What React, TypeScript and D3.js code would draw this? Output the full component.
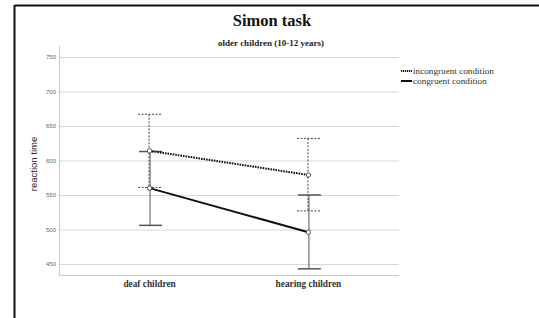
import React, { useEffect, useRef } from "react";
import * as d3 from "d3";

// groups on the x axis
const groups = ["deaf children", "hearing children"];

// mean reaction times and error-bar ends per condition
const incongruentMean = [614, 579];
const incongruentLow = [561, 527];
const incongruentHigh = [667, 632];

const congruentMean = [560, 496];
const congruentLow = [506, 443];
const congruentHigh = [613, 550];

const yTicks = [450, 500, 550, 600, 650, 700, 750];

const serif = "'Liberation Serif', 'Times New Roman', serif";
const sans = "'Liberation Sans', Arial, sans-serif";

const App: React.FC = () => {
  const svgRef = useRef<SVGSVGElement | null>(null);

  useEffect(() => {
    const width = 539;
    const height = 318;
    const plot = { left: 59, right: 399, top: 46, bottom: 275 };

    const svg = d3.select(svgRef.current);
    svg.selectAll("*").remove();
    svg.attr("width", width).attr("height", height);

    // frame (only top and left edges visible)
    svg
      .append("line")
      .attr("x1", 14.5)
      .attr("x2", width)
      .attr("y1", 5.5)
      .attr("y2", 5.5)
      .attr("stroke", "#111")
      .attr("stroke-width", 2);
    svg
      .append("line")
      .attr("x1", 14.5)
      .attr("x2", 14.5)
      .attr("y1", 5)
      .attr("y2", height)
      .attr("stroke", "#111")
      .attr("stroke-width", 2);

    const yScale = d3.scaleLinear().domain([450, 750]).range([264, 57]);
    const xScale = d3
      .scalePoint<string>()
      .domain(groups)
      .range([plot.left, plot.right])
      .padding(0.57);

    // grid lines
    svg
      .append("g")
      .selectAll("line")
      .data(yTicks)
      .enter()
      .append("line")
      .attr("x1", plot.left)
      .attr("x2", plot.right)
      .attr("y1", (d) => yScale(d) + 0.5)
      .attr("y2", (d) => yScale(d) + 0.5)
      .attr("stroke", "#d9d9d9")
      .attr("stroke-width", 1);

    // axes lines
    svg
      .append("line")
      .attr("x1", plot.left + 0.5)
      .attr("x2", plot.left + 0.5)
      .attr("y1", plot.top)
      .attr("y2", plot.bottom)
      .attr("stroke", "#c8c8c8");
    svg
      .append("line")
      .attr("x1", plot.left)
      .attr("x2", plot.right)
      .attr("y1", plot.bottom + 0.5)
      .attr("y2", plot.bottom + 0.5)
      .attr("stroke", "#c8c8c8");

    // y tick labels
    svg
      .append("g")
      .selectAll("text")
      .data(yTicks)
      .enter()
      .append("text")
      .attr("x", 56)
      .attr("y", (d) => yScale(d))
      .attr("dy", "0.35em")
      .attr("text-anchor", "end")
      .attr("font-family", sans)
      .attr("font-size", 6)
      .attr("fill", "#666")
      .text((d) => d);

    // y title
    svg
      .append("text")
      .attr("transform", `translate(36.5, 164) rotate(-90)`)
      .attr("text-anchor", "middle")
      .attr("font-family", sans)
      .attr("font-size", 9.5)
      .attr("fill", "#222")
      .text("reaction time");

    // x labels
    svg
      .append("g")
      .selectAll("text")
      .data(groups)
      .enter()
      .append("text")
      .attr("x", (d) => xScale(d)!)
      .attr("y", 287)
      .attr("text-anchor", "middle")
      .attr("font-family", serif)
      .attr("font-weight", "bold")
      .attr("font-size", 9.3)
      .attr("fill", "#333")
      .text((d) => d);

    // titles
    svg
      .append("text")
      .attr("x", 272)
      .attr("y", 26)
      .attr("text-anchor", "middle")
      .attr("font-family", serif)
      .attr("font-weight", "bold")
      .attr("font-size", 16.5)
      .attr("fill", "#111")
      .text("Simon task");
    svg
      .append("text")
      .attr("x", 271)
      .attr("y", 45.5)
      .attr("text-anchor", "middle")
      .attr("font-family", serif)
      .attr("font-weight", "bold")
      .attr("font-size", 9)
      .attr("fill", "#222")
      .text("older children (10-12 years)");

    const series = [
      {
        name: "incongruent condition",
        mean: incongruentMean,
        low: incongruentLow,
        high: incongruentHigh,
        lineDash: "1.6,1",
        barDash: "2,1.5",
        barColor: "#444",
        offset: -1,
      },
      {
        name: "congruent condition",
        mean: congruentMean,
        low: congruentLow,
        high: congruentHigh,
        lineDash: null,
        barDash: null,
        barColor: "#555",
        offset: 0,
      },
    ];

    // error bars
    series.forEach((s) => {
      const g = svg.append("g");
      groups.forEach((grp, i) => {
        const x = xScale(grp)! + s.offset + 0.5;
        g.append("line")
          .attr("x1", x)
          .attr("x2", x)
          .attr("y1", yScale(s.high[i]))
          .attr("y2", yScale(s.low[i]))
          .attr("stroke", s.barColor)
          .attr("stroke-width", 1)
          .attr("stroke-dasharray", s.barDash);
        [s.high[i], s.low[i]].forEach((v) => {
          g.append("line")
            .attr("x1", x - 11)
            .attr("x2", x + 12)
            .attr("y1", yScale(v))
            .attr("y2", yScale(v))
            .attr("stroke", s.barColor)
            .attr("stroke-width", s.barDash ? 1 : 1.5)
            .attr("stroke-dasharray", s.barDash);
        });
      });
    });

    // mean lines
    const line = d3
      .line<number>()
      .x((_, i) => xScale(groups[i])!)
      .y((d) => yScale(d));

    series.forEach((s) => {
      svg
        .append("path")
        .attr("d", line(s.mean))
        .attr("fill", "none")
        .attr("stroke", "#111")
        .attr("stroke-width", 2)
        .attr("stroke-dasharray", s.lineDash);
      svg
        .append("g")
        .selectAll("circle")
        .data(s.mean)
        .enter()
        .append("circle")
        .attr("cx", (_, i) => xScale(groups[i])!)
        .attr("cy", (d) => yScale(d))
        .attr("r", 2.2)
        .attr("fill", "#fff")
        .attr("stroke", "#333")
        .attr("stroke-width", 0.8);
    });

    // legend
    const legend = svg.append("g").attr("transform", "translate(401, 71)");
    series.forEach((s, i) => {
      const y = i * 10;
      legend
        .append("line")
        .attr("x1", 0)
        .attr("x2", 11)
        .attr("y1", y)
        .attr("y2", y)
        .attr("stroke", "#111")
        .attr("stroke-width", 2)
        .attr("stroke-dasharray", s.lineDash ? "1.2,0.8" : null);
      legend
        .append("text")
        .attr("x", 12)
        .attr("y", y)
        .attr("dy", "0.32em")
        .attr("font-family", serif)
        .attr("font-size", 9.2)
        .attr("fill", "#333")
        .text(s.name);
    });
  }, []);

  return (
    <div style={{ position: "absolute", left: 0, top: 0 }}>
      <svg ref={svgRef} style={{ display: "block", background: "#fff" }}></svg>
    </div>
  );
};

export default App;
